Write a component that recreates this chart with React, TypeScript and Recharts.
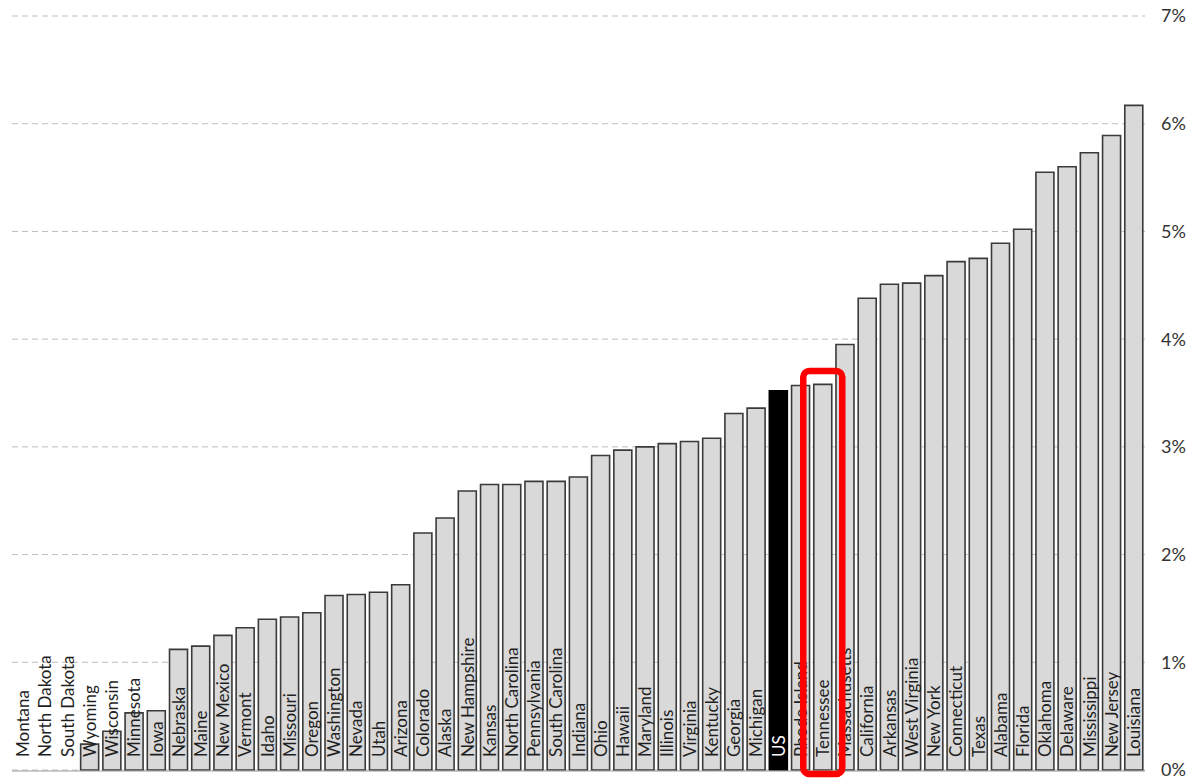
import React from "react";
import {
  BarChart,
  Bar,
  XAxis,
  YAxis,
  CartesianGrid,
  Cell,
  LabelList,
} from "recharts";

const states: string[] = [
  "Montana", "North Dakota", "South Dakota", "Wyoming", "Wisconsin", "Minnesota", "Iowa",
  "Nebraska", "Maine", "New Mexico", "Vermont", "Idaho", "Missouri", "Oregon", "Washington",
  "Nevada", "Utah", "Arizona", "Colorado", "Alaska", "New Hampshire", "Kansas",
  "North Carolina", "Pennsylvania", "South Carolina", "Indiana", "Ohio", "Hawaii", "Maryland",
  "Illinois", "Virginia", "Kentucky", "Georgia", "Michigan", "US", "Rhode Island", "Tennessee",
  "Massachusetts", "California", "Arkansas", "West Virginia", "New York", "Connecticut",
  "Texas", "Alabama", "Florida", "Oklahoma", "Delaware", "Mississippi", "New Jersey", "Louisiana",
];

const values: number[] = [
  0, 0, 0, 0.24, 0.36, 0.53, 0.55,
  1.12, 1.15, 1.25, 1.32, 1.4, 1.42, 1.46, 1.62,
  1.63, 1.65, 1.72, 2.2, 2.34, 2.59, 2.65,
  2.65, 2.68, 2.68, 2.72, 2.92, 2.97, 3.0,
  3.03, 3.05, 3.08, 3.31, 3.36, 3.52, 3.57, 3.58,
  3.95, 4.38, 4.51, 4.52, 4.59, 4.72,
  4.75, 4.89, 5.02, 5.55, 5.6, 5.73, 5.89, 6.17,
];

const yTicks: number[] = [0, 1, 2, 3, 4, 5, 6, 7];
const totalLabel = "US";
const highlighted = "Tennessee";
const highlightTop = 3.705;
const highlightBottom = -0.037;

const data = states.map((name, i) => ({ name, value: values[i], idx: i + 0.5 }));
const boundaryTicks = states.map((_, i) => i).concat([states.length]);

const FONT = "Lato, 'Open Sans', sans-serif";

const renderStateTick = (props: any) => {
  const { x, y, payload } = props;
  const isTotal = payload.value === totalLabel;
  return (
    <text
      transform={`translate(${x},${y - 13}) rotate(-90)`}
      textAnchor="start"
      dy="0.36em"
      fontSize={17}
      fontFamily={FONT}
      fill={isTotal ? "#ffffff" : "#1f1f1f"}
    >
      {payload.value}
    </text>
  );
};

const renderHighlight = (props: any) => {
  const { x, y, width, height, value } = props;
  if (value !== highlighted) return null;
  const v = values[states.indexOf(value)];
  const h = Number(height);
  const base = Number(y) + h;
  const perUnit = h / v;
  const top = base - highlightTop * perUnit;
  const bottom = base - highlightBottom * perUnit;
  const cx = Number(x) + Number(width) / 2;
  const half = 19.5;
  return (
    <rect
      key={`hl-${value}`}
      x={cx - half}
      y={top}
      width={half * 2}
      height={bottom - top}
      rx={6}
      ry={6}
      fill="none"
      stroke="#ff0000"
      strokeWidth={6.5}
    />
  );
};

export default function App() {
  return (
    <div style={{ width: 1192, height: 779, boxSizing: "border-box", paddingLeft: 8, overflow: "hidden", background: "#fff" }}>
      <style>{"html,body{margin:0;padding:0;overflow:hidden;}"}</style>
      <BarChart
        width={1184}
        height={779}
        data={data}
        margin={{ top: 16, right: 0, bottom: 0, left: 4 }}
        barCategoryGap={2}
      >
        <CartesianGrid
          vertical={false}
          stroke="#bdbdbd"
          strokeDasharray="6 4"
          yAxisId="y"
          xAxisId="cat"
        />
        <XAxis
          xAxisId="cat"
          dataKey="name"
          type="category"
          interval={0}
          height={1}
          tickSize={0}
          tickMargin={0}
          tickLine={false}
          axisLine={false}
          tick={renderStateTick}
        />
        <XAxis
          xAxisId="ticks"
          dataKey="idx"
          type="number"
          domain={[0, states.length]}
          allowDataOverflow
          ticks={boundaryTicks}
          interval={0}
          height={8}
          tickSize={6}
          tick={false}
          tickLine={{ stroke: "#9a9a9a", strokeWidth: 1.2 }}
          axisLine={{ stroke: "#9a9a9a", strokeWidth: 1.2 }}
        />
        <YAxis
          yAxisId="y"
          orientation="right"
          domain={[0, 7]}
          ticks={yTicks}
          interval={0}
          width={47}
          tickSize={6}
          tickMargin={10}
          tickLine={false}
          axisLine={false}
          tickFormatter={(v: number) => `${v}%`}
          tick={{ fontSize: 18, fontFamily: FONT, fill: "#333333" }}
        />
        <Bar
          dataKey="value"
          xAxisId="cat"
          yAxisId="y"
          isAnimationActive={false}
          stroke="#3a3a3a"
          strokeWidth={1.6}
        >
          {data.map((d) => (
            <Cell
              key={d.name}
              fill={d.name === totalLabel ? "#000000" : "#d9d9d9"}
              stroke={d.name === totalLabel ? "#000000" : "#3a3a3a"}
            />
          ))}
          <LabelList dataKey="name" content={renderHighlight} />
        </Bar>
      </BarChart>
    </div>
  );
}
